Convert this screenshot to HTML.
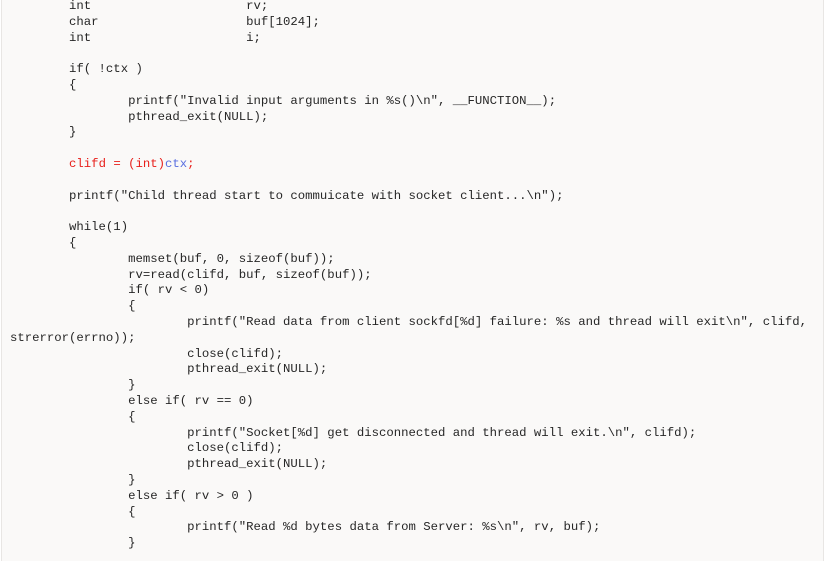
<!DOCTYPE html>
<html><head><style>
html,body{margin:0;padding:0;}
body{width:825px;height:561px;overflow:hidden;background:#fff;position:relative;}
#bg{position:absolute;left:1px;top:0;width:821px;height:561px;background:#faf9f8;border-left:1px solid #e8e6e4;border-right:1px solid #e8e6e4;}
pre{position:absolute;left:10px;top:-1px;margin:0;font-family:"Liberation Mono",monospace;font-size:12.3px;line-height:15.8px;color:#262626;tab-size:8;}
.r{color:#e8201b}.b{color:#5a6fe0}
</style></head><body><div id="bg"></div>
<pre>        int                     rv;
        char                    buf[1024];
        int                     i;

        if( !ctx )
        {
                printf("Invalid input arguments in %s()\n", __FUNCTION__);
                pthread_exit(NULL);
        }

        <span class="r">clifd = (int)</span><span class="b">ctx</span><span class="r">;</span>

        printf("Child thread start to commuicate with socket client...\n");

        while(1)
        {
                memset(buf, 0, sizeof(buf));
                rv=read(clifd, buf, sizeof(buf));
                if( rv &lt; 0)
                {
                        printf("Read data from client sockfd[%d] failure: %s and thread will exit\n", clifd,
strerror(errno));
                        close(clifd);
                        pthread_exit(NULL);
                }
                else if( rv == 0)
                {
                        printf("Socket[%d] get disconnected and thread will exit.\n", clifd);
                        close(clifd);
                        pthread_exit(NULL);
                }
                else if( rv &gt; 0 )
                {
                        printf("Read %d bytes data from Server: %s\n", rv, buf);
                }
</pre>
</body></html>
